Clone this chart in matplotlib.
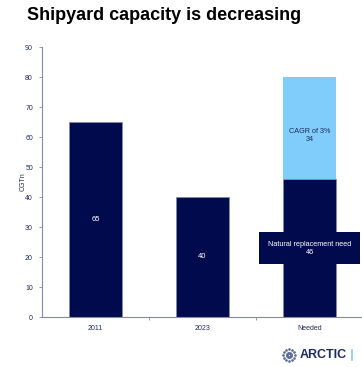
import matplotlib
matplotlib.use("Agg")
import matplotlib.pyplot as plt
import math

categories = ["2011", "2023", "Needed"]
base_values = [65, 40, 46]
top_values = [0, 0, 34]
base_labels = ["65", "40", "Natural replacement need\n46"]
top_label = "CAGR of 3%\n34"
y_ticks = [0, 10, 20, 30, 40, 50, 60, 70, 80, 90]

NAVY = "#000a4d"
LIGHT = "#80ccfa"
TICK = "#1f2a5c"
SPINE = "#8289a8"

plt.rcParams['font.family'] = ['Liberation Sans', 'DejaVu Sans']

fig = plt.figure(figsize=(3.62, 3.67), dpi=100)
ax = fig.add_axes([42/362, 1-317/367, (363-42)/362, (317-47)/367])

x = list(range(len(categories)))
ax.bar(x, base_values, width=0.5, color=NAVY, edgecolor=SPINE, linewidth=0.5)
ax.bar(x, top_values, width=0.5, bottom=base_values, color=LIGHT, edgecolor=LIGHT, linewidth=0)

ax.set_xlim(-0.5, 2.5)
ax.set_ylim(0, 90)
ax.set_yticks(y_ticks)
ax.set_xticks(x)
ax.set_xticklabels(categories)
ax.set_xticks([0.5, 1.5], minor=True)
ax.tick_params(axis='x', which='major', length=0, labelsize=5, colors=TICK, pad=6)
ax.tick_params(axis='x', which='minor', length=2.5, color=SPINE, width=0.6)
ax.tick_params(axis='y', length=2.5, labelsize=5, colors=TICK, width=0.6, pad=4)
ax.tick_params(axis='y', color=SPINE)
for s in ['top', 'right']:
    ax.spines[s].set_visible(False)
for s in ['left', 'bottom']:
    ax.spines[s].set_color(SPINE)
    ax.spines[s].set_linewidth(0.8)

ax.set_ylabel("CGTn", fontsize=5, color=TICK, labelpad=-1)

# data labels
ax.text(0, base_values[0] / 2, base_labels[0], ha='center', va='center', color='white', fontsize=5.5)
ax.text(1, base_values[1] / 2, base_labels[1], ha='center', va='center', color='white', fontsize=5.5)
ax.text(2, 23, base_labels[2], ha='center', va='center', color='white', fontsize=5.2,
        linespacing=1.2,
        bbox=dict(boxstyle='square,pad=1.2', facecolor=NAVY, edgecolor='none'))
ax.text(2, 60.5, top_label, ha='center', va='center', color=TICK, fontsize=5.2, linespacing=1.2)

fig.text(27/362, 1-16/367, "Shipyard capacity is decreasing", fontsize=13, fontweight='bold',
         ha='left', va='center', color='black')

# logo
fig.text(300/362, 1-355/367, "ARCTIC", fontsize=9, fontweight='bold', color="#1a2a6c",
         ha='left', va='center')
lax = fig.add_axes([282/362, 1-362/367, 14/362, 14/367])
lax.set_xlim(-1, 1); lax.set_ylim(-1, 1); lax.axis('off')
pts = [(math.cos(a * math.pi / 6) * r, math.sin(a * math.pi / 6) * r)
       for r in (0.35, 0.8) for a in range(12)]
lax.scatter([p[0] for p in pts], [p[1] for p in pts], s=0.8, color="#5a6a9a")
fig.add_artist(plt.Line2D([352/362, 352/362], [1-360/367, 1-350/367], color=LIGHT, lw=1.2))

fig.savefig("out.png", dpi=100)
